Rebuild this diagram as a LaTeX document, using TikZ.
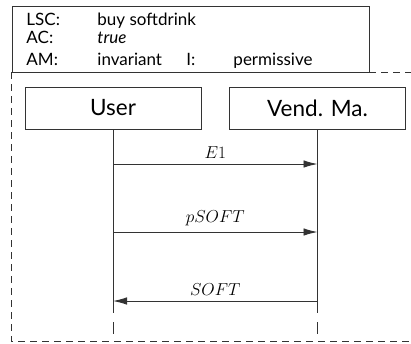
\documentclass[tikz,border=0pt]{standalone}
\usepackage{fontspec}
\setmainfont{Lato}
\usetikzlibrary{arrows.meta}
\begin{document}
\begin{tikzpicture}[x=1pt,y=-1pt,
  line width=0.95pt,
  ink/.style={draw=black!80},
  frame/.style={ink, dash pattern=on 7pt off 5pt},
  hdr/.style={anchor=base west, inner sep=0pt, font=\fontsize{17}{19}\selectfont},
  objbox/.style={ink, fill=white, minimum width=176pt, minimum height=42pt, inner sep=0pt,
    font=\fontsize{22.5}{25}\selectfont},
  life/.style={ink},
  msg/.style={ink, -{Latex[length=14pt,width=7.5pt]}},
  msglabel/.style={midway, above, inner sep=0pt, yshift=5.5pt, font=\fontsize{17.5}{20}\selectfont}
]
\useasboundingbox (0,0) rectangle (411,343);

% outer chart frame (dashed, open to the right)
\coordinate (fTL) at (11,72);
\coordinate (fBL) at (11,341);
\coordinate (fBR) at (411,341);
\coordinate (fTR) at (411,72);
\draw[frame] (fTL) -- (fBL) -- (fBR);
\draw[frame] (369,72) -- (fTR);

% header box
\node[ink, fill=white, minimum width=357pt, minimum height=66pt, inner sep=0pt, anchor=north west]
  (head) at (12,6) {};
\node[hdr] (lsc) at (26,25) {LSC:};
\node[hdr] (lscv) at (97,25) {buy softdrink};
\node[hdr] (ac) at (26,43) {AC:};
\node[hdr] (acv) at (97,43) {\itshape true};
\node[hdr] (am) at (26,65) {AM:};
\node[hdr] (amv) at (97,65) {invariant};
\node[hdr] (il) at (186,65) {I:};
\node[hdr] (ilv) at (233,65) {permissive};

% instances
\node[objbox] (user) at (113,108) {User};
\node[objbox] (vend) at (317.5,108) {Vend. Ma.};

% lifelines
\coordinate (uEnd) at (113,313);
\coordinate (vEnd) at (317.5,313);
\coordinate (uDa) at (113,322);
\coordinate (uDb) at (113,334);
\coordinate (vDa) at (317.5,322);
\coordinate (vDb) at (317.5,334);
\draw[life] (user.south) -- (uEnd);
\draw[life] (vend.south) -- (vEnd);
\draw[ink] (uDa) -- (uDb);
\draw[ink] (vDa) -- (vDb);

% messages
\coordinate (u1) at (113,164);   \coordinate (v1) at (317.5,164);
\coordinate (u2) at (113,232);   \coordinate (v2) at (317.5,232);
\coordinate (u3) at (113,301);   \coordinate (v3) at (317.5,301);
\draw[msg] (u1) -- node[msglabel] (m1) {$E1$} (v1);
\draw[msg] (u2) -- node[msglabel] (m2) {$pSOFT$} (v2);
\draw[msg] (v3) -- node[msglabel] (m3) {$SOFT$} (u3);
\end{tikzpicture}
\end{document}
